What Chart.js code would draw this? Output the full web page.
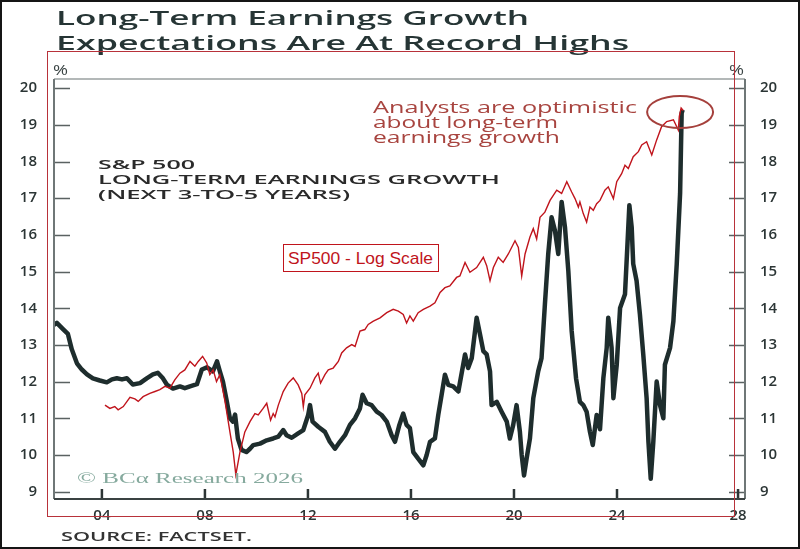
<!DOCTYPE html>
<html>
<head>
<meta charset="utf-8">
<script src="https://cdn.jsdelivr.net/npm/chart.js@4.4.1/dist/chart.umd.min.js"></script>
<style>
  html, body { margin:0; padding:0; background:#fff; }
  #wrap { position:relative; width:800px; height:549px; overflow:hidden; background:#fff; }
  #wrap canvas { position:absolute; left:0; top:0; }
  .t { position:absolute; white-space:nowrap; transform-origin:0 0; line-height:1; }
  #border { position:absolute; left:0; top:0; width:796px; height:545px; border:2px solid #151515; pointer-events:none; }
  #redframe { position:absolute; left:47px; top:51px; width:686px; height:464px; border:1px solid #b8323a; pointer-events:none; }
  #spbox { position:absolute; left:283px; top:244px; width:154px; height:26px; border:1px solid #c0141c; background:#fff; }
</style>
</head>
<body>
<div id="wrap">
  <canvas id="c" width="800" height="549"></canvas>
  <div class="t" data-w="473" data-base="22" style="left:56px;font:600 20px 'Open Sans';color:#263535;">Long-Term Earnings Growth</div>
  <div class="t" data-w="573" data-base="47" style="left:56px;font:600 20px 'Open Sans';color:#263535;">Expectations Are At Record Highs</div>
  <div class="t" data-w="15" data-base="72" style="left:53px;font:500 14px 'Open Sans';color:#3a4444;">%</div>
  <div class="t" data-w="15" data-base="72" style="left:729px;font:500 14px 'Open Sans';color:#3a4444;">%</div>
  <div class="t" data-w="97" data-base="167" style="left:98px;font:600 13px 'Open Sans';color:#2a2a2a;">S&amp;P 500</div>
  <div class="t" data-w="402" data-base="182" style="left:98px;font:600 13px 'Open Sans';color:#2a2a2a;">LONG-TERM EARNINGS GROWTH</div>
  <div class="t" data-w="252" data-base="197" style="left:98px;font:600 13px 'Open Sans';color:#2a2a2a;">(NEXT 3-TO-5 YEARS)</div>
  <div class="t" data-w="264" data-base="110" style="left:373px;font:500 16px 'Open Sans';color:#a8443f;">Analysts are optimistic</div>
  <div class="t" data-w="185" data-base="125" style="left:373px;font:500 16px 'Open Sans';color:#a8443f;">about long-term</div>
  <div class="t" data-w="187" data-base="140" style="left:373px;font:500 16px 'Open Sans';color:#a8443f;">earnings growth</div>
  <div id="spbox"></div>
  <div class="t" data-w="145" data-base="264" style="left:288px;font:400 17px 'Liberation Sans';color:#c0141c;">SP500 - Log Scale</div>
  <div class="t" data-w="226" data-base="483" style="left:77px;font:400 15px 'Liberation Serif';color:#86aa9e;">© BCα Research 2026</div>
  <div class="t" data-w="191" data-base="539" style="left:61px;font:600 13px 'Open Sans';color:#333;">SOURCE: FACTSET.</div>
  <div id="redframe"></div>
  <div id="border"></div>
</div>
<script>
// ---- Data ----
const egYears = [2002.06,2002.25,2002.49,2002.68,2002.83,2003.03,2003.22,2003.42,2003.65,2003.92,
  2004.19,2004.39,2004.58,2004.78,2004.97,2005.20,2005.48,2005.74,2005.98,2006.17,
  2006.37,2006.52,2006.76,2007.03,2007.22,2007.42,2007.69,2007.88,2008.08,2008.31,
  2008.47,2008.58,2008.70,2008.85,2008.97,2009.09,2009.17,2009.28,2009.42,2009.61,
  2009.75,2009.88,2010.14,2010.40,2010.65,2010.85,2011.04,2011.17,2011.37,2011.62,
  2011.82,2012.01,2012.08,2012.18,2012.40,2012.66,2012.85,2013.05,2013.24,2013.44,
  2013.63,2013.83,2014.02,2014.12,2014.28,2014.47,2014.67,2014.86,2015.06,2015.25,
  2015.38,2015.55,2015.70,2015.83,2015.96,2016.09,2016.28,2016.48,2016.61,2016.74,
  2016.93,2017.06,2017.19,2017.32,2017.45,2017.64,2017.84,2018.10,2018.22,2018.36,
  2018.55,2018.68,2018.81,2018.94,2019.07,2019.13,2019.33,2019.52,2019.72,2019.84,
  2019.97,2020.10,2020.23,2020.30,2020.39,2020.49,2020.62,2020.75,2020.94,2021.07,
  2021.20,2021.33,2021.46,2021.59,2021.72,2021.85,2021.98,2022.11,2022.24,2022.41,
  2022.56,2022.69,2022.82,2022.95,2023.06,2023.21,2023.34,2023.47,2023.60,2023.66,
  2023.79,2023.86,2023.99,2024.12,2024.31,2024.40,2024.48,2024.57,2024.63,2024.76,
  2024.89,2025.02,2025.15,2025.22,2025.31,2025.41,2025.54,2025.67,2025.80,2025.86,
  2026.06,2026.19,2026.32,2026.45,2026.51,2026.55];
const egValues = [13.51,13.60,13.43,13.30,12.88,12.50,12.33,12.20,12.09,12.03,
  11.98,12.06,12.09,12.06,12.09,11.92,11.96,12.09,12.20,12.24,
  12.09,11.92,11.81,11.87,11.82,11.87,11.93,12.33,12.39,12.28,
  12.55,12.28,12.00,11.46,11.00,10.91,11.10,10.45,10.14,10.08,
  10.17,10.27,10.31,10.40,10.45,10.50,10.68,10.54,10.47,10.59,
  10.68,11.09,11.36,10.91,10.77,10.63,10.36,10.17,10.36,10.54,
  10.82,11.00,11.27,11.64,11.41,11.36,11.18,11.09,10.91,10.54,
  10.36,10.82,11.13,10.82,10.73,10.08,9.90,9.72,10.00,10.36,
  10.45,11.09,11.64,12.19,11.91,11.87,11.73,12.74,12.37,12.64,
  13.74,13.29,12.83,12.74,12.28,11.36,11.45,11.18,10.91,10.45,
  10.82,11.36,10.63,10.00,9.44,9.90,10.45,11.55,12.28,12.64,
  14.10,15.48,16.48,16.12,15.48,16.90,16.21,15.02,13.38,12.09,
  11.45,11.36,11.18,10.63,10.27,11.09,10.70,12.09,12.92,13.74,
  12.92,11.55,12.46,14.01,14.38,15.66,16.81,16.21,15.21,14.75,
  13.83,12.74,11.55,10.36,9.35,10.36,12.00,11.36,11.00,12.46,
  12.92,13.65,15.21,17.13,19.32,19.41];

const spYears = [2004.12,2004.31,2004.50,2004.63,2004.83,2005.09,2005.28,2005.41,2005.60,2005.86,
  2006.06,2006.25,2006.45,2006.64,2006.83,2007.03,2007.22,2007.42,2007.61,2007.74,
  2007.91,2008.07,2008.19,2008.32,2008.45,2008.58,2008.78,2008.97,2009.10,2009.20,
  2009.36,2009.55,2009.75,2009.94,2010.07,2010.26,2010.40,2010.55,2010.65,2010.72,
  2010.85,2011.04,2011.23,2011.43,2011.62,2011.76,2011.82,2011.88,2012.08,2012.27,
  2012.40,2012.49,2012.66,2012.79,2012.98,2013.18,2013.31,2013.50,2013.70,2013.83,
  2014.02,2014.21,2014.34,2014.54,2014.80,2015.06,2015.31,2015.51,2015.70,2015.83,
  2015.96,2016.09,2016.28,2016.48,2016.74,2016.93,2017.13,2017.32,2017.51,2017.77,
  2017.90,2018.10,2018.29,2018.55,2018.81,2018.94,2019.07,2019.20,2019.39,2019.58,
  2019.78,2020.04,2020.17,2020.30,2020.43,2020.62,2020.75,2020.88,2021.01,2021.20,
  2021.40,2021.66,2021.85,2022.05,2022.24,2022.37,2022.50,2022.56,2022.69,2022.82,
  2022.95,2023.08,2023.21,2023.34,2023.53,2023.66,2023.86,2023.99,2024.18,2024.31,
  2024.44,2024.63,2024.83,2024.96,2025.15,2025.35,2025.54,2025.73,2025.93,2026.19,
  2026.38,2026.42,2026.49,2026.57];
const spValues = [11.36,11.27,11.32,11.23,11.32,11.57,11.53,11.46,11.59,11.68,
  11.73,11.78,11.87,11.82,12.05,12.23,12.32,12.55,12.42,12.55,
  12.69,12.51,12.19,12.32,12.00,12.19,11.46,10.63,10.08,9.46,
  10.08,10.63,10.91,11.13,11.09,11.27,11.41,10.95,11.13,11.04,
  11.36,11.73,11.96,12.10,11.91,11.68,11.32,11.64,11.82,12.10,
  12.23,11.96,12.19,12.32,12.37,12.55,12.78,12.92,13.01,12.96,
  13.38,13.42,13.56,13.65,13.74,13.88,13.97,13.92,13.83,13.60,
  13.79,13.65,13.88,13.97,14.06,14.15,14.43,14.56,14.61,14.84,
  14.88,15.25,14.98,15.11,15.39,15.16,14.75,15.11,15.39,15.25,
  15.48,15.84,15.66,14.88,15.48,15.94,16.17,15.89,16.48,16.62,
  16.94,17.22,17.13,17.45,17.17,16.99,16.76,16.90,16.58,16.35,
  16.76,16.67,16.85,16.94,17.22,17.31,16.99,17.45,17.67,17.90,
  17.81,18.13,18.27,18.45,18.54,18.18,18.59,18.95,19.09,19.14,
  18.86,19.23,19.46,19.39];

const yTickValues = [9,10,11,12,13,14,15,16,17,18,19,20];
const xTickValues = [2004,2008,2012,2016,2020,2024,2028.7];
const xTickLabels = ['04','08','12','16','20','24','28'];
const highlight = { x: 2026.45, y: 19.35 };

// ---- scale text overlays to their measured widths ----
document.querySelectorAll('.t').forEach(el => {
  const fs = parseFloat(getComputedStyle(el).fontSize);
  const base = parseFloat(el.dataset.base);
  el.style.top = (base - 0.89 * fs) + 'px';
  const w = el.getBoundingClientRect().width;
  const target = parseFloat(el.dataset.w);
  el.style.transform = 'scaleX(' + (target / w).toFixed(3) + ')';
});

const toPts = (xs, ys) => xs.map((x, i) => ({ x: x, y: ys[i] }));

const framePlugin = {
  id: 'frame',
  beforeDatasetsDraw(chart) {
    const { ctx, chartArea: a, scales } = chart;
    ctx.save();
    ctx.strokeStyle = '#5a6262';
    ctx.lineWidth = 1.5;
    yTickValues.forEach(v => {
      const py = Math.round(scales.y.getPixelForValue(v)) + 0.5;
      ctx.beginPath();
      ctx.moveTo(a.left, py); ctx.lineTo(a.left + 16, py);
      ctx.moveTo(a.right - 16, py); ctx.lineTo(a.right, py);
      ctx.stroke();
    });
    ctx.strokeStyle = '#2d3535';
    ctx.lineWidth = 2.5;
    xTickValues.forEach(v => {
      const px = scales.x.getPixelForValue(v);
      ctx.beginPath();
      ctx.moveTo(px, a.bottom); ctx.lineTo(px, a.bottom - 10);
      ctx.stroke();
    });
    ctx.restore();
  },
  afterDatasetsDraw(chart) {
    const { ctx, chartArea: a, scales } = chart;
    ctx.save();
    ctx.strokeStyle = '#9aa0a0'; ctx.lineWidth = 1.5;
    ctx.beginPath(); ctx.moveTo(a.left, a.top); ctx.lineTo(a.right, a.top); ctx.stroke();
    ctx.strokeStyle = '#6f7777'; ctx.lineWidth = 2;
    ctx.beginPath(); ctx.moveTo(a.left, a.top); ctx.lineTo(a.left, a.bottom);
    ctx.moveTo(a.right, a.top); ctx.lineTo(a.right, a.bottom); ctx.stroke();
    ctx.strokeStyle = '#3a4242'; ctx.lineWidth = 2;
    ctx.beginPath(); ctx.moveTo(a.left, a.bottom); ctx.lineTo(a.right, a.bottom); ctx.stroke();
    const cx = scales.x.getPixelForValue(highlight.x);
    const cy = scales.y.getPixelForValue(highlight.y);
    ctx.strokeStyle = '#a5403c'; ctx.lineWidth = 2;
    ctx.beginPath(); ctx.ellipse(cx, cy, 33, 16, 0, 0, Math.PI * 2); ctx.stroke();
    ctx.restore();
  }
};

const tickFont = { family: "'Open Sans'", size: 15, weight: '600' };
const yAxis = (pos, w, pad) => ({
  type: 'linear', position: pos, min: 8.8, max: 20.25,
  grid: { display: false, drawTicks: false },
  border: { display: false },
  afterFit: s => { s.width = w; },
  afterBuildTicks: s => { s.ticks = yTickValues.map(v => ({ value: v })); },
  ticks: { padding: pad, color: '#2b3535', font: tickFont, callback: v => String(v) }
});

new Chart(document.getElementById('c'), {
  type: 'line',
  data: {
    datasets: [
      { label: 'S&P 500 (log scale)', data: toPts(spYears, spValues), borderColor: '#c0141c',
        borderWidth: 1.4, pointRadius: 0, tension: 0, order: 0, yAxisID: 'y' },
      { label: 'Long-term earnings growth', data: toPts(egYears, egValues), borderColor: '#1e2d2d',
        borderWidth: 4.5, pointRadius: 0, tension: 0, order: 1, borderJoinStyle: 'round', yAxisID: 'y' }
    ]
  },
  options: {
    responsive: false,
    animation: false,
    layout: { padding: { top: 79, left: 0, right: 0, bottom: 0 } },
    plugins: { legend: { display: false }, tooltip: { enabled: false }, title: { display: false } },
    scales: {
      x: {
        type: 'linear', min: 2002.14, max: 2028.97,
        grid: { display: false, drawTicks: false },
        border: { display: false },
        afterFit: s => { s.height = 50; },
        afterBuildTicks: s => { s.ticks = xTickValues.map(v => ({ value: v })); },
        ticks: { padding: 8, color: '#2b3535', font: tickFont, maxRotation: 0, autoSkip: false,
          callback: (v, i) => xTickLabels[i] }
      },
      y: yAxis('left', 54, 17),
      y2: yAxis('right', 55, 15)
    }
  },
  plugins: [framePlugin]
});
</script>
</body>
</html>
